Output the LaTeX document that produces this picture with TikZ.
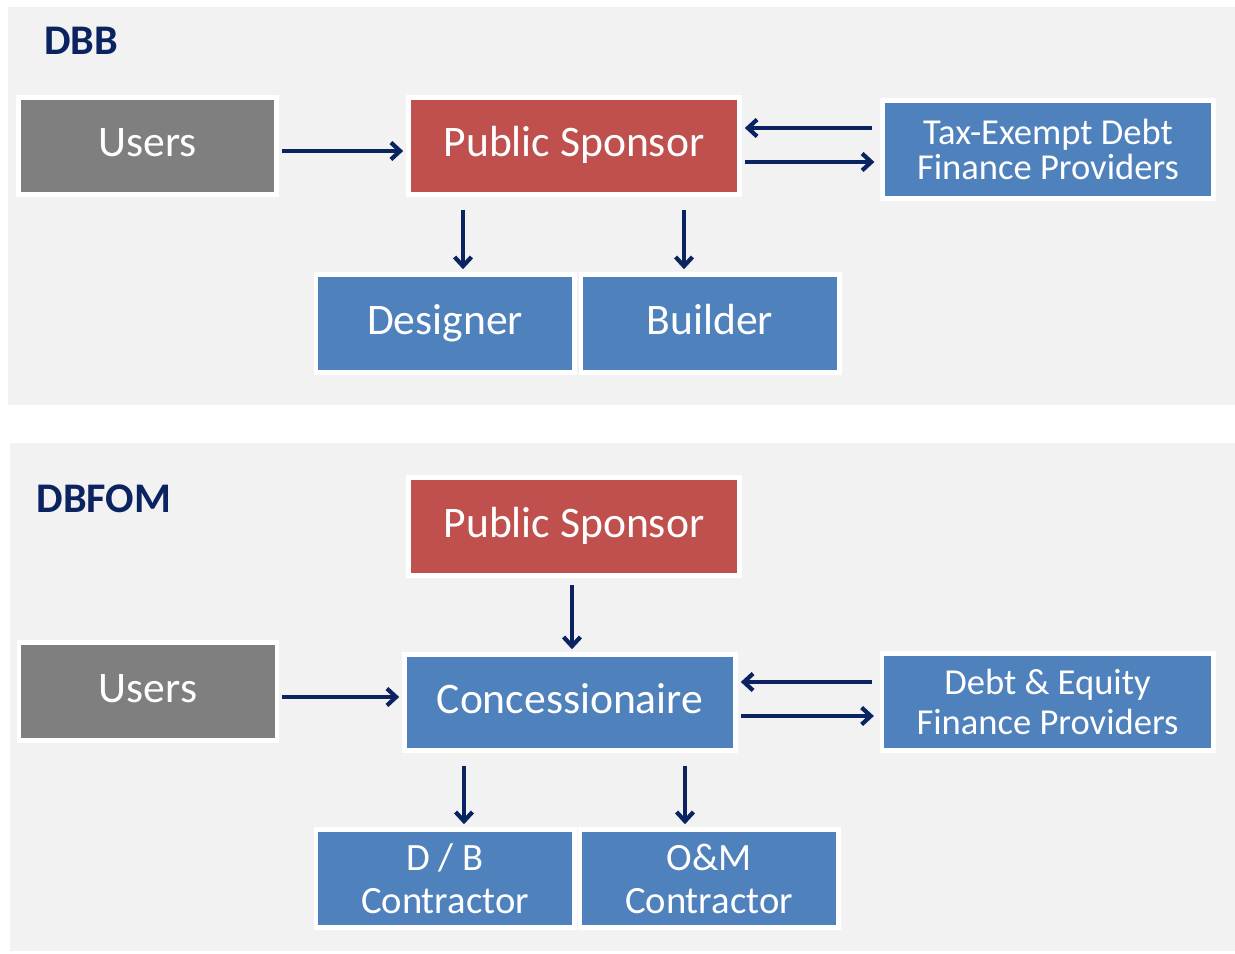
\documentclass[tikz,border=0pt]{standalone}
\usepackage{fontspec}
\setmainfont{Carlito}
\usetikzlibrary{arrows.meta,shadows}

\definecolor{panelgray}{HTML}{F2F2F2}
\definecolor{usergray}{HTML}{7F7F7F}
\definecolor{sponsorred}{HTML}{C0504D}
\definecolor{partyblue}{HTML}{4F81BD}
\definecolor{navy}{HTML}{0B2461}

\tikzset{
  panel/.style={fill=panelgray, draw=none},
  title/.style={font=\fontsize{30}{34}\bfseries\selectfont, text=navy},
  box/.style={draw=white, line width=3.5pt, inner sep=0pt, text=white,
    align=center, font=\fontsize{31}{35}\selectfont,
    drop shadow={shadow xshift=1.4pt, shadow yshift=-2pt, opacity=0.45, fill=black!50}},
  oneline/.style={text height=21pt, text depth=6pt},
  wide/.style={box, minimum width=8.275cm, minimum height=2.425cm},
  narrow/.style={box, minimum width=6.45cm, minimum height=2.425cm},
  flow/.style={draw=navy, line width=3pt, -{Straight Barb[length=6.5pt,width=12pt,line width=3pt]},
    shorten <=2pt, shorten >=2pt},
}

\begin{document}
\begin{tikzpicture}[x=0.025cm, y=-0.025cm]
  \useasboundingbox (0,0) rectangle (1235,953);
  \fill[white] (0,0) rectangle (1235,953);

  % DBB
  \fill[panel] (8,7) rectangle (1235,405);
  \node[title] (dbb) at (81,41) {DBB};
  \node[narrow, oneline, fill=usergray] (users1) at (147.5,146) {Users};
  \node[wide, oneline, fill=sponsorred] (ps1) at (574,146) {Public Sponsor};
  \node[wide, fill=partyblue, minimum height=2.45cm,
    font=\fontsize{26}{25}\selectfont] (tax) at (1048,149.5)
    {Tax-Exempt Debt\\Finance Providers};
  \node[narrow, oneline, fill=partyblue, minimum height=2.45cm] (des) at (445,323.5) {Designer};
  \node[narrow, oneline, fill=partyblue, minimum height=2.45cm] (bld) at (710,323.5) {Builder};

  \draw[flow] (users1.east |- 0,151) -- (ps1.west |- 0,151);
  \draw[flow, shorten <=6pt] (tax.west |- 0,128) -- (ps1.east |- 0,128);
  \draw[flow, shorten >=4pt] (ps1.east |- 0,162) -- (tax.west |- 0,162);
  \draw[flow, shorten <=9pt, shorten >=2pt] (ps1.south -| 463,0) -- (des.north -| 463,0);
  \draw[flow, shorten <=9pt, shorten >=2pt] (ps1.south -| 684,0) -- (bld.north -| 684,0);

  % DBFOM
  \fill[panel] (10,443) rectangle (1235,951);
  \node[title] (dbfom) at (104,499) {DBFOM};
  \node[wide, oneline, fill=sponsorred, minimum height=2.45cm] (ps2) at (574,526.5) {Public Sponsor};
  \node[narrow, oneline, fill=usergray, minimum height=2.45cm] (users2) at (148,691.5) {Users};
  \node[wide, oneline, fill=partyblue, minimum height=2.4cm] (conc) at (570,702.5) {Concessionaire};
  \node[wide, fill=partyblue, font=\fontsize{26}{28}\selectfont] (debt) at (1047.5,702)
    {Debt \& Equity\\Finance Providers};
  \node[narrow, fill=partyblue, minimum height=2.45cm,
    font=\fontsize{27.5}{30.5}\selectfont] (db) at (445,878.5) {D / B\\Contractor};
  \node[narrow, fill=partyblue, minimum height=2.45cm,
    font=\fontsize{27.5}{30.5}\selectfont] (om) at (709,878.5) {O\&M\\Contractor};

  \draw[flow, shorten <=5pt] (ps2.south -| 572,0) -- (conc.north -| 572,0);
  \draw[flow] (users2.east |- 0,697) -- (conc.west |- 0,697);
  \draw[flow, shorten <=5pt] (debt.west |- 0,682) -- (conc.east |- 0,682);
  \draw[flow, shorten >=4pt] (conc.east |- 0,716) -- (debt.west |- 0,716);
  \draw[flow, shorten <=9pt, shorten >=2pt] (conc.south -| 464,0) -- (db.north -| 464,0);
  \draw[flow, shorten <=9pt, shorten >=2pt] (conc.south -| 685,0) -- (om.north -| 685,0);
\end{tikzpicture}
\end{document}
